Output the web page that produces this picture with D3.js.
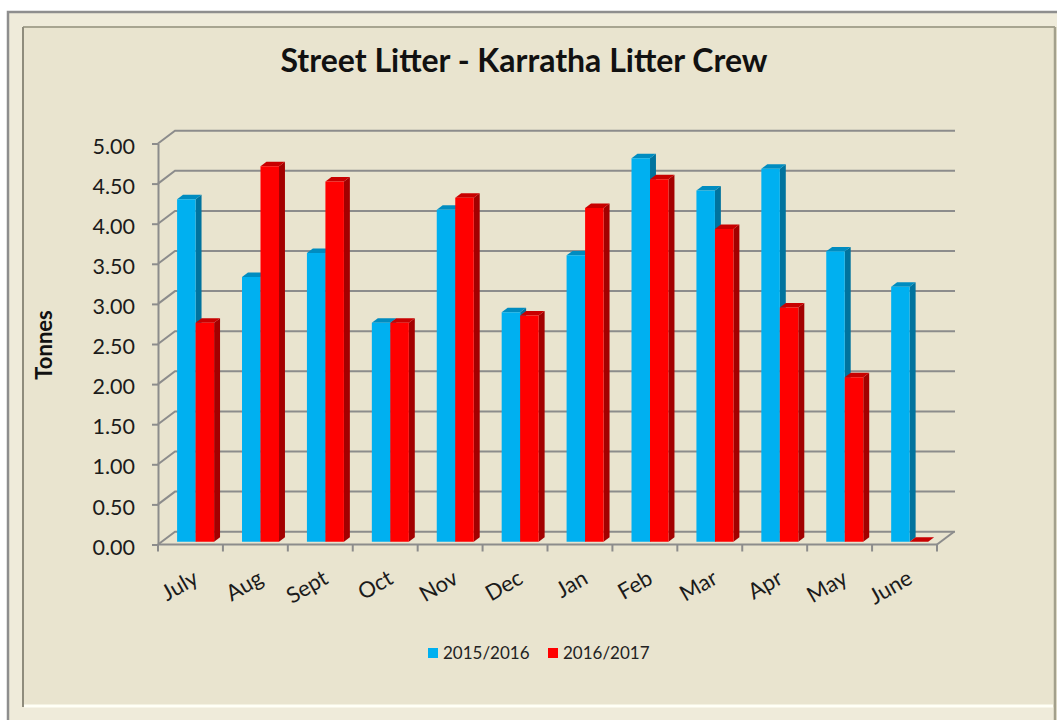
<!DOCTYPE html>
<html>
<head>
<meta charset="utf-8">
<script src="https://cdn.jsdelivr.net/npm/d3@7"></script>
<style>
  html, body { margin: 0; padding: 0; background: #fff; }
  svg { display: block; font-family: Lato, "Open Sans", sans-serif; }
</style>
</head>
<body>
<div id="chart"></div>
<script>
// street litter chart — 3D-ish clustered columns, two financial years
const months = ['July','Aug','Sept','Oct','Nov','Dec','Jan','Feb','Mar','Apr','May','June'];
const seriesNames = ['2015/2016','2016/2017'];
const fy1516 = [4.27,3.30,3.60,2.73,4.14,2.86,3.57,4.78,4.38,4.65,3.62,3.18];
const fy1617 = [2.73,4.68,4.49,2.73,4.29,2.82,4.16,4.52,3.90,2.92,2.05,0];
const yTicks = [0,0.5,1,1.5,2,2.5,3,3.5,4,4.5,5];
const colors = {
  '2015/2016': {front:'#00B0F0', side:'#00739E', top:'#008CC0'},
  '2016/2017': {front:'#FF0000', side:'#A30000', top:'#C80000'}
};

const W = 1057, H = 720;
const svg = d3.select('#chart').append('svg').attr('width', W).attr('height', H);

// frame
svg.append('rect').attr('x',8).attr('y',12).attr('width',1070).attr('height',730)
  .attr('fill','#EFEBDA').attr('stroke','#8E8E8E').attr('stroke-width',2.5);
svg.append('rect').attr('x',23).attr('y',27).attr('width',1032).attr('height',680).attr('fill','#E9E4CF');
svg.append('line').attr('x1',23).attr('y1',27).attr('x2',1055).attr('y2',27).attr('stroke','#A8A591').attr('stroke-width',2);
svg.append('line').attr('x1',23).attr('y1',27).attr('x2',23).attr('y2',707).attr('stroke','#8F8C7C').attr('stroke-width',2);
svg.append('line').attr('x1',1055).attr('y1',27).attr('x2',1055).attr('y2',720).attr('stroke','#A3A08C').attr('stroke-width',2.5);
svg.append('line').attr('x1',24).attr('y1',706).attr('x2',1053).attr('y2',706).attr('stroke','#FFFFF6').attr('stroke-width',3);

// scales (front plane)
const x0 = d3.scaleBand().domain(months).range([158, 937]).paddingInner(0.43).paddingOuter(0.215).align(0.55);
const x1 = d3.scaleBand().domain(seriesNames).range([0, x0.bandwidth()]);
const y = d3.scaleLinear().domain([0,5]).range([544.5, 143.5]);

// depth projection
const DX = 17, DY = -12.8;
const P = (px, py, z) => [px + DX*z, py + DY*z];
const grid = '#8C8C8C';

// back wall gridlines + side diagonals
const g = svg.append('g');
yTicks.forEach(t => {
  const a = P(158, y(t), 0), b = P(158, y(t), 1);
  g.append('polyline').attr('points', [a,b,[955, b[1]]].join(' '))
    .attr('fill','none').attr('stroke',grid).attr('stroke-width',2);
});
// floor right edge
g.append('line').attr('x1',937).attr('y1',y(0)).attr('x2',P(937,y(0),1)[0]).attr('y2',P(937,y(0),1)[1])
  .attr('stroke',grid).attr('stroke-width',2);

// bars
const z0 = 0.22, z1 = 0.57;
const rows = [];
months.forEach((m,i) => {
  rows.push({m, s:'2015/2016', v:fy1516[i]});
  rows.push({m, s:'2016/2017', v:fy1617[i]});
});
const bars = svg.append('g');
rows.forEach(d => {
  const xl = x0(d.m) + x1(d.s), xr = xl + x1.bandwidth();
  const yt = y(d.v), yb = y(0);
  const c = colors[d.s];
  const side = [P(xr,yt,z0), P(xr,yt,z1), P(xr,yb,z1), P(xr,yb,z0)];
  const top = [P(xl,yt,z0), P(xr,yt,z0), P(xr,yt,z1), P(xl,yt,z1)];
  const front = [P(xl,yt,z0), P(xr,yt,z0), P(xr,yb,z0), P(xl,yb,z0)];
  bars.append('polygon').attr('points', side.join(' ')).attr('fill', c.side);
  bars.append('polygon').attr('points', top.join(' ')).attr('fill', c.top);
  bars.append('polygon').attr('points', front.join(' ')).attr('fill', c.front);
});

// y axis
const yAxis = svg.append('g').attr('transform','translate(158,0)')
  .call(d3.axisLeft(y).tickValues(yTicks).tickFormat(d3.format('.2f')).tickSize(6).tickSizeOuter(0).tickPadding(17));
yAxis.select('.domain').attr('stroke',grid).attr('stroke-width',2);
yAxis.selectAll('.tick line').attr('stroke',grid).attr('stroke-width',2);
yAxis.selectAll('.tick text').attr('dy','0.45em').attr('font-size',21.5).attr('fill','#1b1b1b').attr('font-family','Lato');

// x axis: front floor edge, ticks at category boundaries
const xAxis = svg.append('g').attr('transform',`translate(0,${y(0)})`)
  .call(d3.axisBottom(x0).tickSize(0).tickSizeOuter(0));
xAxis.select('.domain').remove();
xAxis.append('line').attr('x1',158).attr('x2',937).attr('stroke',grid).attr('stroke-width',2);
const step = x0.step();
xAxis.selectAll('.bound').data(d3.range(months.length + 1)).join('line')
  .attr('x1', i => 158 + i*step).attr('x2', i => 158 + i*step)
  .attr('y1',0).attr('y2',7).attr('stroke',grid).attr('stroke-width',2);
xAxis.selectAll('.tick text')
  .attr('x',0).attr('y',0).attr('dy',0)
  .attr('text-anchor','end')
  .attr('transform','translate(8,38) rotate(-30)')
  .attr('font-size',22).attr('fill','#1b1b1b').attr('font-family','Lato');

// titles
svg.append('text').attr('x',524).attr('y',72).attr('text-anchor','middle')
  .attr('font-size',32).attr('font-weight','bold').attr('fill','#111').text('Street Litter - Karratha Litter Crew');
svg.append('text').attr('transform','translate(52,345) rotate(-90)').attr('text-anchor','middle')
  .attr('font-size',22).attr('font-weight','bold').attr('fill','#111').text('Tonnes');

// legend
const legendX = [428, 548];
seriesNames.forEach((s,i) => {
  svg.append('rect').attr('x',legendX[i]).attr('y',648).attr('width',10).attr('height',10).attr('fill',colors[s].front);
  svg.append('text').attr('x',legendX[i]+15).attr('y',659).attr('font-size',17).attr('fill','#222').text(s);
});
</script>
</body>
</html>
